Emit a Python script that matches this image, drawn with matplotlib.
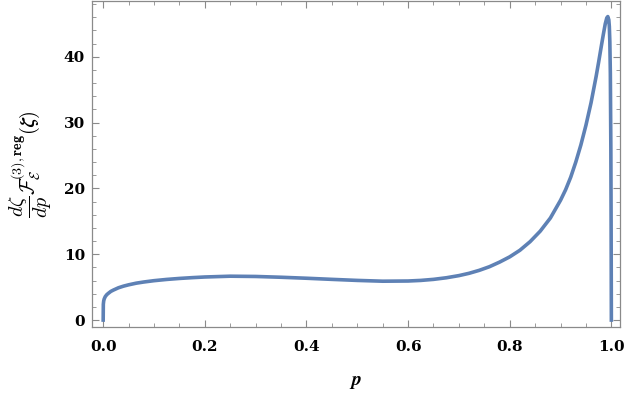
import numpy as np
import matplotlib
matplotlib.use("Agg")
import matplotlib.pyplot as plt
from matplotlib.ticker import MultipleLocator

plt.rcParams["mathtext.fontset"] = "cm"

# curve
p = [0.0, 0.0003, 0.001, 0.002, 0.004, 0.007, 0.01, 0.015, 0.02, 0.03, 0.04,
     0.05, 0.065, 0.08, 0.1, 0.125, 0.15, 0.175, 0.2, 0.25, 0.3, 0.35, 0.4,
     0.45, 0.5, 0.55, 0.6, 0.625, 0.65, 0.675, 0.7, 0.72, 0.74, 0.76, 0.78,
     0.8, 0.82, 0.84, 0.86, 0.88, 0.9, 0.91, 0.92, 0.93, 0.94, 0.95, 0.96,
     0.97, 0.975, 0.98, 0.984, 0.988, 0.991, 0.993, 0.995, 0.996, 0.997,
     0.998, 0.999, 0.9995, 1.0]
f = [0.0, 2.4, 2.9, 3.2, 3.55, 3.85, 4.05, 4.35, 4.55, 4.9, 5.15,
     5.35, 5.6, 5.78, 5.98, 6.17, 6.32, 6.44, 6.54, 6.66, 6.62, 6.5, 6.35,
     6.18, 6.02, 5.9, 5.93, 6.02, 6.18, 6.42, 6.75, 7.1, 7.55, 8.1, 8.8,
     9.6, 10.6, 11.9, 13.5, 15.5, 18.2, 19.8, 21.7, 24.0, 26.6, 29.6, 33.0,
     37.0, 39.2, 41.5, 43.3, 45.0, 45.9, 46.1, 45.6, 44.6, 42.3,
     37.5, 26.0, 15.0, 0.0]

x_ticks = [0.0, 0.2, 0.4, 0.6, 0.8, 1.0]
y_ticks = [0, 10, 20, 30, 40]

fig = plt.figure(figsize=(6.25, 3.94), dpi=100)
ax = fig.add_axes([0.1472, 0.170, 0.8448, 0.828])
ax.plot(p, f, color="#5E81B5", lw=2.6, solid_joinstyle="round")

ax.set_xlim(-0.022, 1.017)
ax.set_ylim(-1.06, 48.5)
ax.set_xticks(x_ticks)
ax.set_yticks(y_ticks)
ax.set_xticklabels([f"{v:.1f}" for v in x_ticks])
ax.set_yticklabels([str(v) for v in y_ticks])
ax.xaxis.set_minor_locator(MultipleLocator(0.05))
ax.yaxis.set_minor_locator(MultipleLocator(2))
for lab in ax.get_xticklabels() + ax.get_yticklabels():
    lab.set_fontfamily("DejaVu Serif")
    lab.set_fontweight("bold")

gray = "#8a8a8a"
for s in ax.spines.values():
    s.set_color(gray)
    s.set_linewidth(0.9)
ax.tick_params(which="both", direction="in", top=True, right=True,
               color=gray, labelsize=11, labelcolor="black")
ax.tick_params(which="major", length=5, width=0.8)
ax.tick_params(which="minor", length=2.8, width=0.6)
ax.tick_params(axis="x", which="major", pad=9)
ax.tick_params(axis="y", which="major", pad=5)

ax.set_xlabel(r"$\boldsymbol{p}$", fontsize=14, labelpad=13)
ax.set_ylabel(r"$\boldsymbol{\dfrac{d\zeta}{dp}\mathcal{F}_{\mathcal{E}}^{(3),\mathbf{reg}}(\zeta)}$",
              fontsize=14.5, labelpad=7)

plt.savefig("out.png", dpi=100)
